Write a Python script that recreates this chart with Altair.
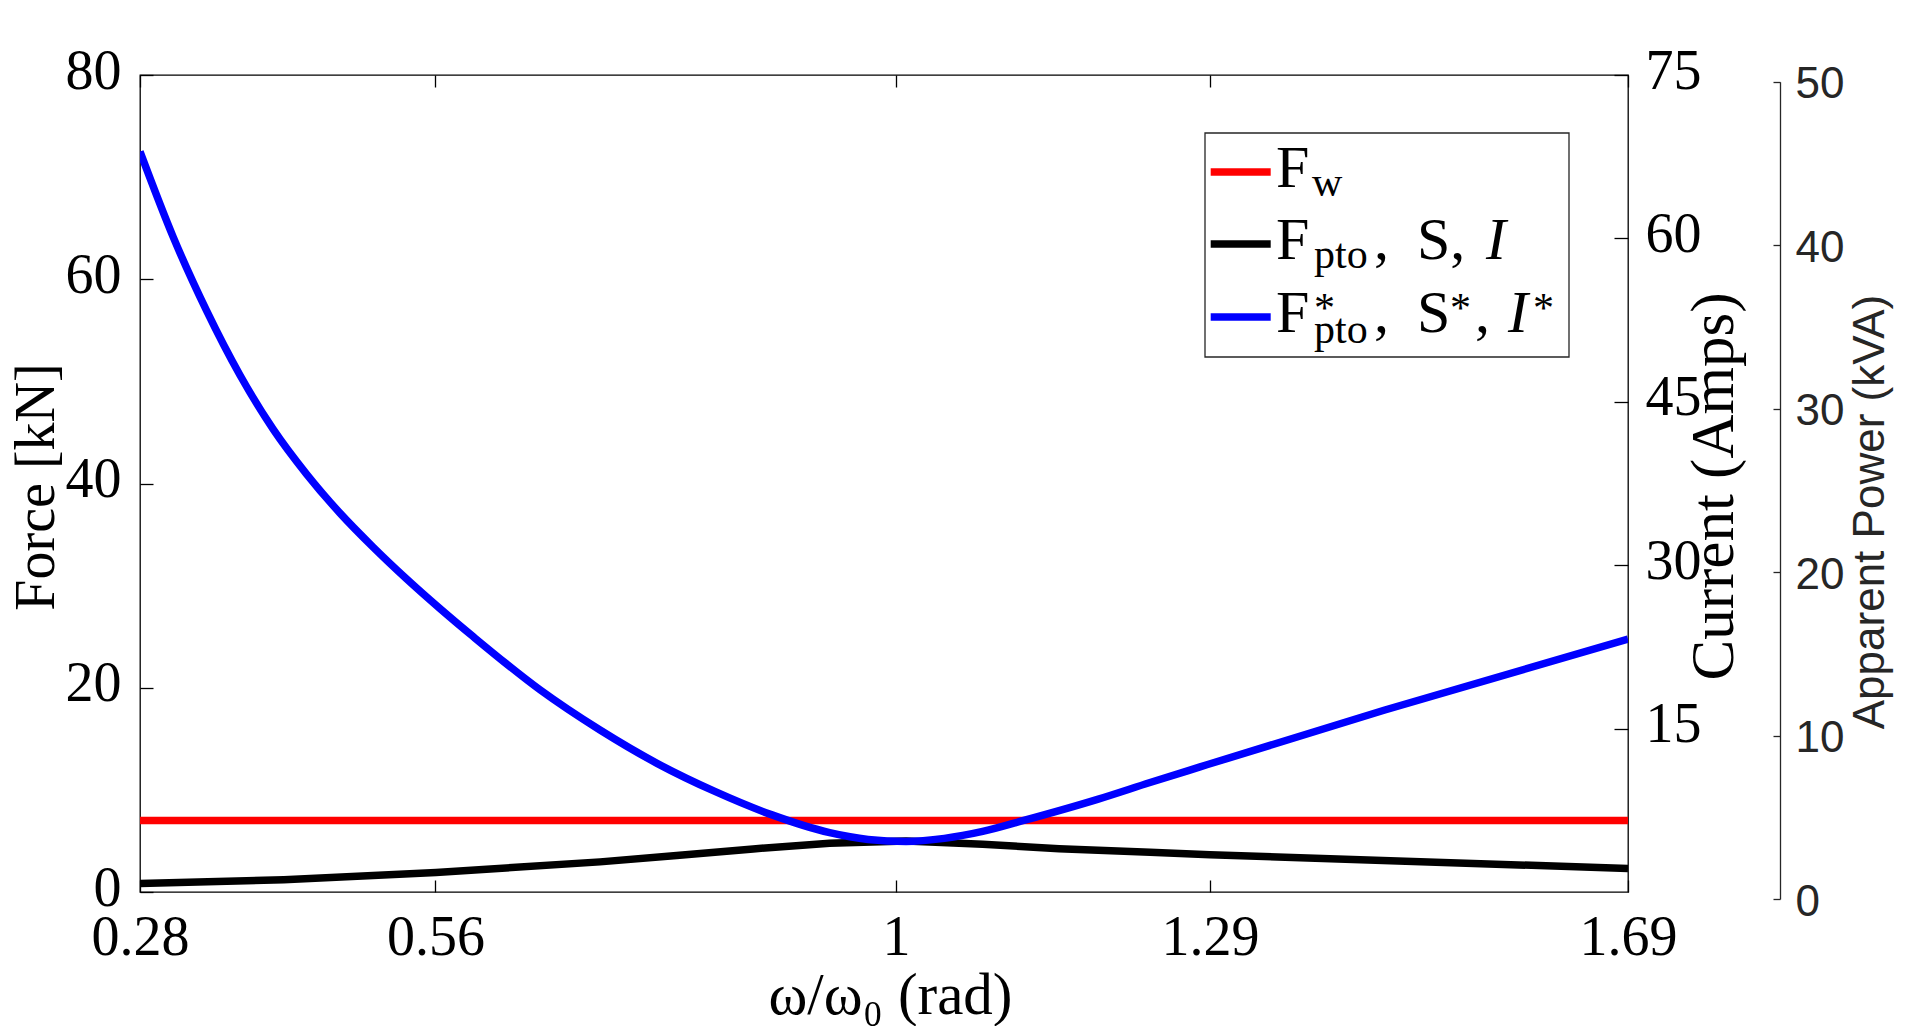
import altair as alt
import pandas as pd

# ---------------- data ----------------
omega_red = [0.28, 1.69]
f_red = [7.0, 7.0]

omega_black = [0.28, 0.4162, 0.5605, 0.7159, 0.7885, 0.861, 0.9335, 1.0059,
               1.0785, 1.151, 1.2371, 1.294, 1.69]
f_black = [0.83, 1.2, 1.92, 2.95, 3.57, 4.22, 4.77, 4.99,
           4.67, 4.24, 3.89, 3.65, 2.30]

omega_blue = [0.28, 0.3116, 0.3432, 0.3748, 0.4063, 0.438, 0.4695, 0.5011,
              0.5327, 0.5643, 0.5958, 0.659, 0.7159, 0.7699, 0.8247, 0.8789,
              0.9335, 0.9699, 1.0059, 1.0422, 1.0785, 1.1148, 1.1873, 1.2371,
              1.2845, 1.4588, 1.69]
f_blue = [72.5, 64.1, 56.9, 50.6, 45.3, 40.9, 37.1, 33.75,
          30.65, 27.75, 25.0, 19.8, 15.86, 12.60, 9.85, 7.55,
          5.81, 5.15, 4.95, 5.25, 5.93, 6.93, 9.07, 10.72,
          12.25, 17.8, 24.77]

x_ticks = [0.28, 0.56, 0.9964, 1.294, 1.69]
force_ticks = [0, 20, 40, 60, 80]
current_ticks = [15, 30, 45, 60, 75]
power_ticks = [0, 10, 20, 30, 40, 50]

x_title = "ω/ω₀ (rad)"
force_title = "Force [kN]"
current_title = "Current (Amps)"
power_title = "Apparent Power (kVA)"

# legend label pieces: (text, style)
legend_labels = [
    [("F", "main"), ("w", "sub")],
    [("F", "main"), ("pto", "sub"), (",", "main"), ("S,", "main"), ("I", "ital")],
    [("F", "main"), ("*", "sup"), ("pto", "sub"), (",", "main"), ("S", "main"),
     ("*", "sup"), (",", "main"), ("I", "ital"), ("*", "sup")],
]
legend_colors = ["#ff0000", "#000000", "#0000ff"]

# ---------------- layout / style ----------------
W, H = 1488, 817
SERIF = "Liberation Serif"
SANS = "Liberation Sans"
FS = 56
GRAY = "#262626"
LW = 7.5

red_df = pd.DataFrame({"omega": omega_red, "force": f_red})
black_df = pd.DataFrame({"omega": omega_black, "force": f_black})
blue_df = pd.DataFrame({"omega": omega_blue, "force": f_blue})

xscale = alt.Scale(domain=[0.28, 1.69], nice=False, zero=False)
fscale = alt.Scale(domain=[0, 80], nice=False)
cscale = alt.Scale(domain=[0, 75], nice=False)
pscale = alt.Scale(domain=[0, 50], nice=False, range=[824, 6.7])


def tick_axis(orient, values, offset, size, color="black"):
    return alt.Axis(orient=orient, values=values, offset=offset, labels=False,
                    domain=False, grid=False, ticks=True, tickSize=size,
                    tickColor=color, tickWidth=1.3, title="")


x_main_axis = alt.Axis(
    orient="bottom", values=x_ticks, format=".2~f", ticks=False, domain=False,
    grid=False, labelFont=SERIF, labelFontSize=FS, labelColor="black",
    labelPadding=18, labelFlush=False, labelOverlap=False,
    title=x_title, titleFont=SERIF, titleFontSize=59, titleFontWeight="normal",
    titleColor="black", titleBaseline="alphabetic", titleY=121, titleX=750)

force_axis = alt.Axis(
    orient="left", values=force_ticks, ticks=False, domain=False, grid=False,
    labelFont=SERIF, labelFontSize=FS, labelColor="black", labelPadding=19,
    labelOffset=-4, labelOverlap=False,
    title=force_title, titleFont=SERIF, titleFontSize=FS, titleFontWeight="normal",
    titleColor="black", titleAngle=270, titleBaseline="alphabetic",
    titleAlign="center", titleX=-87, titleY=411.5)

current_axis = alt.Axis(
    orient="right", values=current_ticks, ticks=False, domain=False, grid=False,
    labelFont=SERIF, labelFontSize=FS, labelColor="black", labelPadding=17,
    labelOffset=-4, labelOverlap=False,
    title=current_title, titleFont=SERIF, titleFontSize=61,
    titleFontWeight="normal", titleColor="black", titleAngle=270,
    titleBaseline="alphabetic", titleAlign="center", titleX=104, titleY=411)

power_axis = alt.Axis(
    orient="right", values=power_ticks, offset=152, ticks=False, domain=True,
    domainColor=GRAY, domainWidth=1.3, grid=False,
    labelFont=SANS, labelFontSize=44, labelColor=GRAY, labelPadding=15,
    labelOffset=3, labelOverlap=False,
    title=power_title, titleFont=SANS, titleFontSize=44, titleFontWeight="normal",
    titleColor=GRAY, titleAngle=270, titleBaseline="alphabetic",
    titleAlign="center", titleX=103, titleY=436.5)

red = alt.Chart(red_df).mark_line(color="#ff0000", strokeWidth=LW, clip=True).encode(
    x=alt.X("omega:Q", scale=xscale, axis=x_main_axis),
    y=alt.Y("force:Q", scale=fscale, axis=force_axis))

black = alt.Chart(black_df).mark_line(color="#000000", strokeWidth=LW, clip=True).encode(
    x=alt.X("omega:Q", scale=xscale, axis=None),
    y=alt.Y("force:Q", scale=fscale, axis=None))

blue = alt.Chart(blue_df).mark_line(color="#0000ff", strokeWidth=LW, clip=True,
                                    interpolate="monotone").encode(
    x=alt.X("omega:Q", scale=xscale, axis=None),
    y=alt.Y("force:Q", scale=fscale, axis=None))

# inward ticks: bottom x ticks + left force ticks
ticks_a = alt.Chart(red_df).mark_point(opacity=0).encode(
    x=alt.X("omega:Q", scale=xscale, axis=tick_axis("top", x_ticks, -H, 12)),
    y=alt.Y("force:Q", scale=fscale, axis=tick_axis("right", force_ticks, -W, 13)))

# top x ticks + current axis labels
ticks_b = alt.Chart(red_df).mark_point(opacity=0).encode(
    x=alt.X("omega:Q", scale=xscale, axis=tick_axis("bottom", x_ticks, -H, 12)),
    y=alt.Y("force:Q", scale=cscale, axis=current_axis))

# current inward ticks
ticks_c = alt.Chart(red_df).mark_point(opacity=0).encode(
    x=alt.X("omega:Q", scale=xscale, axis=None),
    y=alt.Y("force:Q", scale=cscale, axis=tick_axis("left", current_ticks, -W, 14)))

# power axis
power_a = alt.Chart(red_df).mark_point(opacity=0).encode(
    x=alt.X("omega:Q", scale=xscale, axis=None),
    y=alt.Y("force:Q", scale=pscale, axis=power_axis))
power_b = alt.Chart(red_df).mark_point(opacity=0).encode(
    x=alt.X("omega:Q", scale=xscale, axis=None),
    y=alt.Y("force:Q", scale=pscale,
            axis=tick_axis("left", power_ticks, -(W + 152), 7, GRAY)))

# ---------------- legend ----------------
LEG_BOX = (1065, 58, 1429, 282)
LEG_LINE_X = (1070.7, 1130.7)
LEG_ROW_Y = [111.7, 184, 256.7]
LEG_SWATCH_Y = [97, 169, 242]
LEG_SEG_X = [
    [1136, 1172],
    [1136, 1174, 1234, 1277, 1346],
    [1136, 1174, 1174, 1234, 1277, 1310, 1335, 1368, 1393],
]
STYLE = {
    "main": dict(size=60, dy=0, fontStyle="normal"),
    "ital": dict(size=60, dy=0, fontStyle="italic"),
    "sub": dict(size=42, dy=9, fontStyle="normal"),
    "sup": dict(size=42, dy=-10, fontStyle="normal"),
}
one = pd.DataFrame({"k": [0]})

legend_layers = [
    alt.Chart(one).mark_rect(fill="white", stroke=GRAY, strokeWidth=1.3).encode(
        x=alt.value(LEG_BOX[0]), x2=alt.value(LEG_BOX[2]),
        y=alt.value(LEG_BOX[1]), y2=alt.value(LEG_BOX[3]))
]
for r, (segs, col) in enumerate(zip(legend_labels, legend_colors)):
    legend_layers.append(
        alt.Chart(one).mark_rule(color=col, strokeWidth=LW).encode(
            x=alt.value(LEG_LINE_X[0]), x2=alt.value(LEG_LINE_X[1]),
            y=alt.value(LEG_SWATCH_Y[r])))
    for (txt, sty), px in zip(segs, LEG_SEG_X[r]):
        st = STYLE[sty]
        dy = st["dy"]
        if sty == "sub" and r == 2:
            dy = 11.6
        legend_layers.append(
            alt.Chart(pd.DataFrame({"t": [txt]})).mark_text(
                font=SERIF, fontSize=st["size"], fontStyle=st["fontStyle"],
                align="left", baseline="alphabetic", color="black").encode(
                text="t:N", x=alt.value(px), y=alt.value(LEG_ROW_Y[r] + dy)))

chart = alt.layer(
    red, black, blue, ticks_a, ticks_b, ticks_c, power_a, power_b, *legend_layers
).resolve_scale(y="independent").properties(
    width=W, height=H,
    autosize=alt.AutoSizeParams(type="none"),
    padding={"left": 132, "top": 67, "right": 284, "bottom": 134},
    background="white",
).configure_view(stroke="black", strokeWidth=1.3)

chart.save("out.html", embed_options={"renderer": "svg", "actions": False})
